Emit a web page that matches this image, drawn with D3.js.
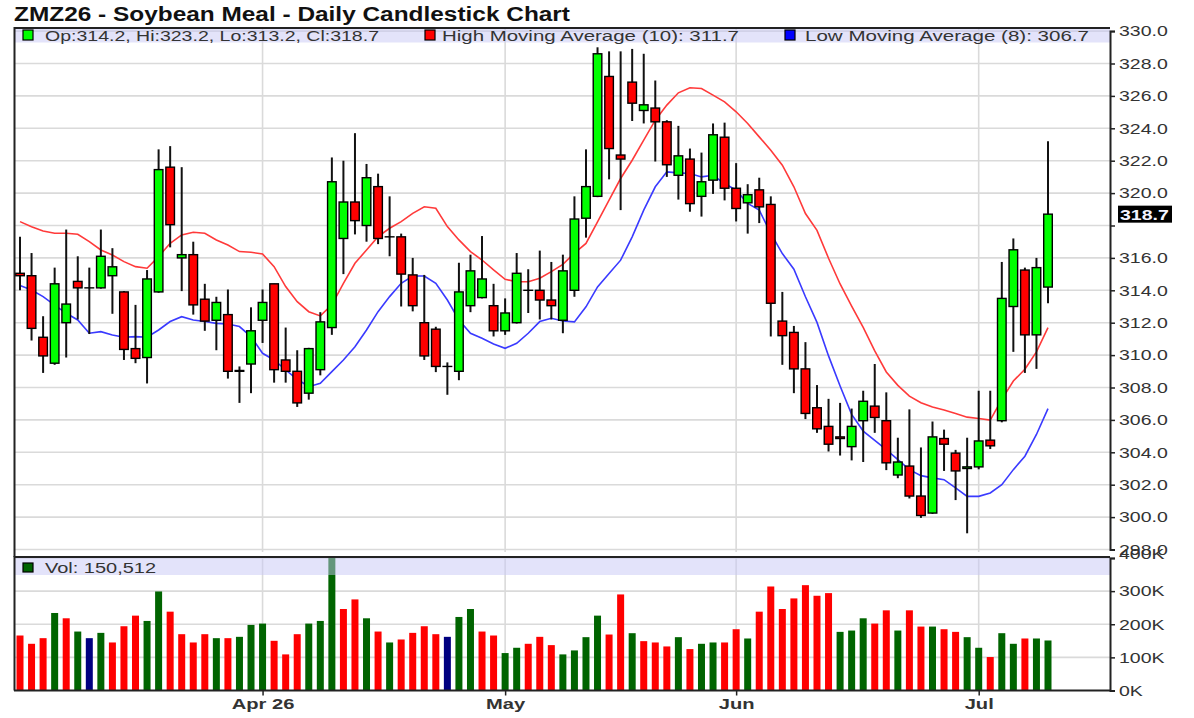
<!DOCTYPE html>
<html><head><meta charset="utf-8">
<script src="https://cdn.jsdelivr.net/npm/d3@7"></script>
<style>
html,body{margin:0;padding:0;background:#fff;}
svg{display:block;font-family:"Liberation Sans",Arial,sans-serif;}
</style></head><body>
<svg id="c" width="1194" height="718"></svg>
<script>
// ---------- data ----------
const titleText = "ZMZ26 - Soybean Meal - Daily Candlestick Chart";
const monthLabels = ["Apr 26", "May", "Jun", "Jul"];
const monthIndex = [21, 42, 62, 83];
const priceTicks = [298,300,302,304,306,308,310,312,314,316,318,320,322,324,326,328,330];
const volTicks = [0,100,200,300,400];

const opens = [315.05,314.9,311.1,309.5,312.0,314.55,314.15,314.15,314.9,313.9,
310.4,309.85,313.9,321.6,316.0,316.2,313.45,312.15,312.5,309.0,
309.45,312.15,314.4,309.7,309.0,307.65,309.1,311.7,317.2,319.45,
318.0,320.4,317.3,317.3,314.95,312.0,311.6,309.3,309.0,313.05,
313.55,313.05,311.5,312.0,314.0,314.0,313.4,312.15,314.0,318.45,
319.8,327.2,322.35,326.85,325.1,325.25,324.4,321.1,322.1,319.8,
320.8,323.45,320.3,319.4,320.2,319.3,312.1,311.4,309.15,306.75,
305.6,304.95,304.35,305.95,306.85,305.95,302.6,303.15,301.3,300.25,
304.85,303.95,303.0,303.1,304.75,305.95,313.0,315.25,311.25,314.2];
const highs = [317.3,316.3,312.4,315.4,317.75,316.1,315.4,317.75,316.6,313.95,
313.1,315.25,322.7,322.9,321.6,317.0,314.4,313.6,314.05,309.3,
312.95,314.05,314.4,311.7,310.3,310.45,312.65,322.2,322.0,323.7,
321.8,321.2,319.8,317.5,316.0,314.95,311.75,309.55,315.7,316.2,
317.35,314.4,313.5,316.3,315.3,316.45,315.75,316.2,319.8,322.7,
329.0,328.75,328.75,328.9,328.6,326.95,324.5,324.15,322.75,322.5,
324.3,324.35,321.85,320.55,320.95,319.8,313.9,311.8,310.8,308.15,
307.3,307.05,306.7,307.8,309.45,307.7,304.9,306.65,304.3,305.9,
305.4,304.15,304.9,307.8,307.8,315.75,317.2,315.4,316.0,323.2];
const lows = [314.0,310.9,308.9,309.4,309.85,312.2,311.3,314.1,312.55,309.7,
309.5,308.25,313.85,316.65,313.95,312.5,311.5,310.3,308.55,307.05,
307.65,310.75,308.3,308.3,306.8,307.25,308.75,311.25,315.0,317.45,
317.0,316.85,316.1,313.0,312.7,309.7,308.95,307.55,308.45,312.65,
313.5,311.15,311.25,311.95,312.6,312.2,312.2,311.35,313.6,317.25,
319.75,320.85,318.95,324.45,324.3,321.95,321.0,319.6,318.85,318.55,
319.95,319.55,318.25,317.5,318.15,311.15,309.4,307.65,306.05,305.2,
304.05,303.8,303.5,303.4,305.2,302.9,302.4,301.15,299.95,300.2,
302.85,301.05,299.0,302.95,304.2,305.85,310.2,308.9,309.15,313.2];
const closes = [314.9,311.65,309.95,314.4,313.15,314.15,314.15,316.1,315.45,310.35,
309.8,314.7,321.45,318.05,316.2,313.1,312.1,313.25,309.0,309.05,
311.5,313.25,309.1,309.0,307.05,310.4,312.05,320.7,319.45,318.3,
320.95,317.2,317.3,315.0,313.05,309.95,309.3,309.3,313.9,315.2,
314.7,311.5,312.6,315.05,314.0,313.4,313.05,315.2,318.4,320.4,
328.6,322.75,322.1,325.55,325.45,324.4,321.75,322.3,319.35,320.7,
323.6,320.3,319.05,319.9,319.15,313.2,311.2,309.15,306.4,305.45,
304.5,304.85,305.6,307.15,306.15,303.35,303.4,301.3,300.1,304.95,
304.5,302.85,303.1,304.7,304.4,313.5,316.5,311.25,315.4,318.7];
// volume in thousands
const volumes = [166,141,158,234,218,178,158,174,145,194,
226,210,299,238,170,145,170,158,158,162,
198,202,150,109,170,202,210,425,246,275,
218,178,145,154,174,194,170,162,222,246,
178,166,113,129,141,162,137,109,121,161,
226,169,290,173,149,145,133,161,125,141,
145,145,185,157,238,314,246,278,318,286,
294,177,181,218,202,242,181,242,193,193,
185,177,161,129,101,173,141,157,157,151];
// volume bar colour class: u = up, d = down, n = unchanged
const volDir = ["d","d","d","u","d","u","n","u","d","d",
"d","u","u","d","d","d","d","u","d","u",
"u","u","d","d","d","u","u","u","d","d",
"u","d","u","d","d","d","d","n","u","u",
"d","d","u","u","d","d","d","u","u","u",
"u","d","d","u","d","d","d","u","d","u",
"u","d","d","u","d","d","d","d","d","d",
"d","u","u","u","d","d","u","d","d","u",
"d","d","u","u","d","u","u","d","u","u"];
const highMA = [318.24,317.93,317.66,317.52,317.52,317.46,317.0,316.49,316.18,315.77,
315.46,315.36,316.08,316.9,317.42,317.58,317.52,317.11,316.8,316.39,
316.35,316.24,315.46,314.23,313.3,312.68,312.42,313.1,314.43,315.67,
316.49,317.31,317.83,318.24,318.75,319.16,319.06,317.93,317.11,316.39,
315.87,315.26,314.68,314.53,314.53,314.74,315.15,315.6,316.3,316.89,
318.23,319.56,320.9,322.03,323.27,324.5,325.43,326.19,326.5,326.46,
326.05,325.63,325.02,324.3,323.47,322.65,321.72,320.39,318.74,317.7,
315.98,314.39,313.03,311.71,310.26,308.96,308.13,307.47,307.06,306.79,
306.61,306.4,306.17,306.09,305.99,307.27,308.4,309.13,310.2,311.7];
const lowMA = [314.29,314.02,313.61,313.09,312.58,312.17,311.35,311.45,311.24,311.1,
311.14,311.1,311.55,312.07,312.37,312.17,312.07,311.96,311.92,311.76,
311.14,310.11,309.7,309.08,308.51,308.05,308.26,308.98,309.7,310.52,
311.55,312.68,313.61,314.43,314.88,314.88,314.43,313.4,312.17,311.35,
311.04,310.69,310.42,310.73,311.35,312.07,312.27,312.1,312.05,312.98,
314.21,315.04,315.86,317.3,318.95,320.39,321.31,321.25,321.21,321.0,
321.1,320.59,320.18,319.36,318.95,317.51,316.27,315.3,313.6,312.02,
309.95,308.09,306.34,305.31,304.73,304.17,303.55,302.93,302.56,302.42,
302.31,301.8,301.28,301.28,301.49,302.0,302.93,303.76,305.1,306.7];
const legendVol = "150,512";
const highMALen = 10, lowMALen = 8;

// ---------- layout ----------
const svg = d3.select("#c");
const L = 15, R = 1110, pTop = 28, pBot = 552, vTop = 557, vBot = 690.5;
const n = closes.length;
const idx = d3.range(n);
const x = d3.scaleLinear().domain([0, n - 1]).range([20, 1048]);
const y = d3.scaleLinear().domain([298, 330]).range([549.5, 31.1]);
const yv = d3.scaleLinear().domain([0, 400]).range([690.5, 558]);
const SX = 1.3; // horizontal stretch of the reference text

const GRID = "#dadada", TXT = "#333";
const defs = svg.append("defs");
defs.append("clipPath").attr("id","cp").append("rect").attr("x",L).attr("y",pTop).attr("width",R-L).attr("height",pBot-pTop);
defs.append("clipPath").attr("id","cv").append("rect").attr("x",L).attr("y",vTop).attr("width",R-L).attr("height",vBot-vTop);

// title
svg.append("text").attr("x",14).attr("y",21).attr("font-size",19.5).attr("font-weight","bold")
  .attr("fill","#111").attr("textLength",556).attr("lengthAdjust","spacingAndGlyphs").text(titleText);

// ---------- price panel ----------
const pg = svg.append("g").attr("clip-path","url(#cp)");
pg.selectAll("line.h").data(priceTicks).join("line")
  .attr("x1",L).attr("x2",R).attr("y1",d=>y(d)).attr("y2",d=>y(d))
  .attr("stroke",GRID).attr("stroke-width",1.6);
pg.selectAll("line.v").data(monthIndex).join("line")
  .attr("x1",d=>x(d)).attr("x2",d=>x(d)).attr("y1",pTop).attr("y2",pBot)
  .attr("stroke",GRID).attr("stroke-width",1.6);

const line = d3.line().x((d,i)=>x(i)).y(d=>y(d));
pg.append("path").datum(highMA).attr("d",line).attr("fill","none").attr("stroke","#ff3a3a").attr("stroke-width",1.6);
pg.append("path").datum(lowMA).attr("d",line).attr("fill","none").attr("stroke","#3a3aff").attr("stroke-width",1.6);

const BW = 8.6;
const cg = pg.append("g");
cg.selectAll("line.wick").data(idx).join("line")
  .attr("x1",i=>x(i)).attr("x2",i=>x(i)).attr("y1",i=>y(highs[i])).attr("y2",i=>y(lows[i]))
  .attr("stroke","#111").attr("stroke-width",2);
cg.selectAll("rect.body").data(idx).join("rect")
  .attr("x",i=>x(i)-BW/2).attr("width",BW)
  .attr("y",i=>y(Math.max(opens[i],closes[i])))
  .attr("height",i=>Math.max(0.01, Math.abs(y(opens[i])-y(closes[i]))))
  .attr("fill",i=>closes[i]>opens[i]?"#00ff00":(closes[i]<opens[i]?"#ff0000":"#000"))
  .attr("stroke","#000").attr("stroke-width",1.4);

// legend band (price)
svg.append("rect").attr("x",L).attr("y",pTop).attr("width",R-L).attr("height",14.5)
  .attr("fill","rgb(200,200,245)").attr("opacity",0.5);
const fmt1 = d3.format(".1f");
const legendItems = [
  {sx:23, tx:45, len:334, col:"#00ff00", text:`Op:${fmt1(opens[n-1])}, Hi:${fmt1(highs[n-1])}, Lo:${fmt1(lows[n-1])}, Cl:${fmt1(closes[n-1])}`},
  {sx:425, tx:442, len:297, col:"#ff0000", text:`High Moving Average (${highMALen}): ${fmt1(highMA[n-1])}`},
  {sx:785, tx:805, len:284, col:"#0000ff", text:`Low Moving Average (${lowMALen}): ${fmt1(lowMA[n-1])}`}
];
legendItems.forEach(d=>{
  svg.append("rect").attr("x",d.sx).attr("y",30).attr("width",10).attr("height",10)
    .attr("fill",d.col).attr("stroke","#000").attr("stroke-width",1.2);
  svg.append("text").attr("x",d.tx).attr("y",40.5).attr("font-size",15).attr("fill",TXT)
    .attr("textLength",d.len).attr("lengthAdjust","spacingAndGlyphs").text(d.text);
});

// frame of price panel
svg.append("path").attr("d",`M${L-0.5},${vTop} V${pTop} H${R}`).attr("fill","none").attr("stroke","#222").attr("stroke-width",2);

// price axis (right)
const lastY = y(closes[n-1]);
const pAxis = svg.append("g").attr("transform",`translate(${R},0)`)
  .call(d3.axisRight(y).tickValues(priceTicks).tickFormat(fmt1).tickSize(5).tickPadding(6));
pAxis.select(".domain").attr("stroke","#222").attr("stroke-width",2);
pAxis.selectAll(".tick line").attr("stroke","#222").attr("stroke-width",1.5);
pAxis.selectAll(".tick text").attr("font-size",15).attr("fill",TXT)
  .attr("font-family","'Liberation Sans',Arial,sans-serif")
  .attr("x",9/SX).attr("transform",`scale(${SX},1)`)
  .style("display",d=>Math.abs(y(d)-lastY)<13?"none":null);
// last price marker
svg.append("rect").attr("x",1118).attr("y",lastY-8.5).attr("width",54).attr("height",17).attr("fill","#000");
svg.append("text").attr("x",1120/SX).attr("y",lastY).attr("dy","0.36em").attr("font-size",15).attr("font-weight","bold")
  .attr("fill","#f4f4ff").attr("transform",`scale(${SX},1)`).text(fmt1(closes[n-1]));

// ---------- volume panel ----------
const vg = svg.append("g").attr("clip-path","url(#cv)");
vg.selectAll("line.h").data(volTicks.slice(1)).join("line")
  .attr("x1",L).attr("x2",R).attr("y1",d=>yv(d)).attr("y2",d=>yv(d))
  .attr("stroke",GRID).attr("stroke-width",1.6);
vg.selectAll("line.v").data(monthIndex).join("line")
  .attr("x1",d=>x(d)).attr("x2",d=>x(d)).attr("y1",vTop).attr("y2",vBot)
  .attr("stroke",GRID).attr("stroke-width",1.6);
const VW = 7;
const vcol = {u:"#006400", d:"#ff0000", n:"#000080"};
vg.selectAll("rect.vol").data(idx).join("rect")
  .attr("x",i=>x(i)-VW/2).attr("width",VW)
  .attr("y",i=>yv(volumes[i])).attr("height",i=>yv(0)-yv(volumes[i]))
  .attr("fill",i=>vcol[volDir[i]]);
svg.append("rect").attr("x",L).attr("y",vTop+1).attr("width",R-L).attr("height",17)
  .attr("fill","rgb(200,200,245)").attr("opacity",0.5);
svg.append("rect").attr("x",23).attr("y",563).attr("width",10).attr("height",9)
  .attr("fill","#006400").attr("stroke","#000").attr("stroke-width",1.2);
svg.append("text").attr("x",45).attr("y",573).attr("font-size",15).attr("fill",TXT)
  .attr("textLength",111).attr("lengthAdjust","spacingAndGlyphs").text(`Vol: ${legendVol}`);
svg.append("path").attr("d",`M${L-0.5},${vBot} V${vTop} H${R}`).attr("fill","none").attr("stroke","#222").attr("stroke-width",2);

const vAxis = svg.append("g").attr("transform",`translate(${R},0)`)
  .call(d3.axisRight(yv).tickValues(volTicks).tickFormat(d=>d+"K").tickSize(5).tickPadding(6));
vAxis.select(".domain").attr("stroke","#222").attr("stroke-width",2);
vAxis.selectAll(".tick line").attr("stroke","#222").attr("stroke-width",1.5);
vAxis.selectAll(".tick text").attr("font-size",15).attr("fill",TXT)
  .attr("font-family","'Liberation Sans',Arial,sans-serif")
  .attr("x",9/SX).attr("transform",`scale(${SX},1)`)
  .attr("y",d=>d===400?-4:0);

// bottom time axis
const xAxis = svg.append("g").attr("transform",`translate(0,${vBot})`)
  .call(d3.axisBottom(x).tickValues(monthIndex).tickFormat((d,i)=>monthLabels[i]).tickSize(5).tickPadding(3));
xAxis.select(".domain").attr("d",`M${L-1},0H${R}`).attr("stroke","#222").attr("stroke-width",2);
xAxis.selectAll(".tick line").attr("stroke","#222").attr("stroke-width",1.5);
xAxis.selectAll(".tick text").attr("font-size",15.5).attr("font-weight","bold").attr("fill",TXT)
  .attr("font-family","'Liberation Sans',Arial,sans-serif")
  .attr("transform",`scale(${SX},1)`);
</script>
</body></html>
